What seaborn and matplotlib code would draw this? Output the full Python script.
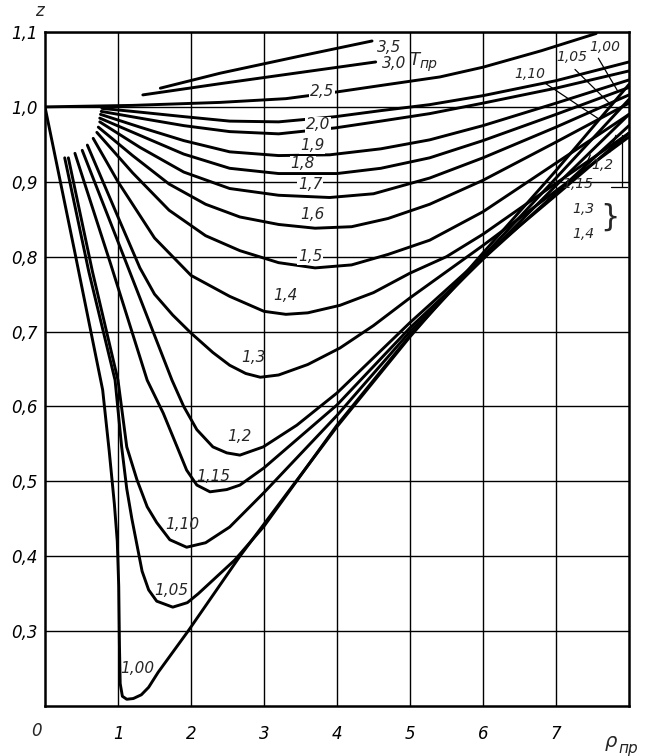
import numpy as np
import pandas as pd
import matplotlib
matplotlib.use("Agg")
import matplotlib.pyplot as plt
import seaborn as sns

# ---- curve data (p_pr, z) for each T_pr ----
T100_p = [0, 0.4, 0.79, 0.88, 0.95, 0.99, 1.01, 1.02, 1.03, 1.06, 1.12, 1.21, 1.32, 1.42, 1.55, 1.96, 2.67, 4.0, 5.0, 6.0, 7.0, 8.0]
T100_z = [1.0, 0.81, 0.622, 0.54, 0.47, 0.42, 0.36, 0.28, 0.23, 0.213, 0.209, 0.21, 0.215, 0.225, 0.245, 0.30, 0.40, 0.573, 0.693, 0.805, 0.915, 1.03]

T105_p = [0.27, 0.6, 0.96, 1.05, 1.12, 1.19, 1.26, 1.33, 1.42, 1.53, 1.75, 1.95, 2.1, 2.6, 3.0, 4.0, 5.0, 6.0, 7.0, 8.0]
T105_z = [0.932, 0.78, 0.635, 0.546, 0.49, 0.45, 0.415, 0.38, 0.355, 0.34, 0.332, 0.338, 0.35, 0.395, 0.44, 0.575, 0.695, 0.80, 0.905, 1.01]

T110_p = [0.32, 0.65, 1.0, 1.12, 1.26, 1.40, 1.53, 1.71, 1.94, 2.2, 2.53, 3.0, 4.0, 5.0, 6.0, 7.0, 8.0]
T110_z = [0.932, 0.78, 0.635, 0.546, 0.502, 0.466, 0.445, 0.422, 0.412, 0.418, 0.439, 0.485, 0.588, 0.70, 0.797, 0.895, 0.99]

T115_p = [0.41, 0.9, 1.4, 1.62, 1.81, 1.94, 2.08, 2.26, 2.49, 2.67, 3.0, 4.0, 5.0, 6.0, 7.0, 8.0]
T115_z = [0.938, 0.79, 0.635, 0.591, 0.546, 0.515, 0.495, 0.486, 0.489, 0.495, 0.518, 0.602, 0.705, 0.797, 0.885, 0.975]

T120_p = [0.51, 1.1, 1.74, 1.9, 2.08, 2.3, 2.49, 2.67, 2.99, 3.45, 4.0, 5.0, 6.0, 7.0, 8.0]
T120_z = [0.942, 0.795, 0.635, 0.60, 0.569, 0.546, 0.538, 0.535, 0.546, 0.575, 0.618, 0.712, 0.80, 0.882, 0.965]

T130_p = [0.58, 1.0, 1.3, 1.5, 1.75, 2.0, 2.3, 2.53, 2.75, 2.95, 3.2, 3.6, 4.04, 4.5, 5.0, 6.0, 7.0, 8.0]
T130_z = [0.949, 0.853, 0.785, 0.75, 0.722, 0.698, 0.672, 0.655, 0.644, 0.639, 0.642, 0.656, 0.678, 0.708, 0.745, 0.815, 0.888, 0.96]

T140_p = [0.66, 1.0, 1.5, 2.0, 2.53, 3.0, 3.3, 3.6, 4.04, 4.5, 5.0, 5.5, 6.0, 7.0, 8.0]
T140_z = [0.958, 0.90, 0.825, 0.775, 0.747, 0.727, 0.723, 0.725, 0.735, 0.752, 0.778, 0.80, 0.83, 0.898, 0.965]

T150_p = [0.71, 1.2, 1.7, 2.2, 2.67, 3.2, 3.7, 4.2, 4.7, 5.27, 6.0, 7.0, 8.0]
T150_z = [0.966, 0.912, 0.862, 0.828, 0.808, 0.792, 0.785, 0.789, 0.803, 0.822, 0.86, 0.925, 0.99]

T160_p = [0.73, 1.2, 1.7, 2.2, 2.67, 3.2, 3.7, 4.2, 4.7, 5.27, 6.0, 7.0, 8.0]
T160_z = [0.973, 0.935, 0.897, 0.870, 0.853, 0.843, 0.838, 0.84, 0.851, 0.87, 0.902, 0.953, 1.005]

T170_p = [0.75, 1.3, 1.9, 2.53, 3.2, 3.9, 4.5, 5.27, 6.0, 7.0, 8.0]
T170_z = [0.98, 0.946, 0.913, 0.891, 0.882, 0.879, 0.884, 0.905, 0.932, 0.973, 1.016]

T180_p = [0.75, 1.3, 1.9, 2.53, 3.2, 4.0, 4.6, 5.27, 6.0, 7.0, 8.0]
T180_z = [0.985, 0.962, 0.937, 0.918, 0.911, 0.911, 0.918, 0.932, 0.955, 0.99, 1.026]

T190_p = [0.76, 1.3, 1.9, 2.53, 3.2, 3.9, 4.6, 5.27, 6.0, 7.0, 8.0]
T190_z = [0.99, 0.973, 0.955, 0.94, 0.935, 0.936, 0.944, 0.956, 0.975, 1.005, 1.036]

T200_p = [0.77, 1.3, 1.9, 2.53, 3.2, 3.98, 4.6, 5.27, 6.0, 7.0, 8.0]
T200_z = [0.994, 0.985, 0.975, 0.967, 0.964, 0.972, 0.981, 0.991, 1.005, 1.025, 1.048]

T220_p = [0.78, 1.3, 1.9, 2.53, 3.2, 3.98, 4.6, 5.27, 6.0, 7.0, 8.0]
T220_z = [0.998, 0.993, 0.987, 0.981, 0.98, 0.987, 0.995, 1.003, 1.015, 1.035, 1.06]

T250_p = [0, 1.2, 2.4, 3.3, 4.0, 4.7, 5.41, 6.0, 6.8, 7.55]
T250_z = [1.0, 1.002, 1.006, 1.011, 1.02, 1.03, 1.04, 1.053, 1.075, 1.098]

T300_p = [1.34, 2.4, 3.5, 4.53]
T300_z = [1.016, 1.031, 1.046, 1.06]

T350_p = [1.58, 2.4, 3.5, 4.48]
T350_z = [1.025, 1.045, 1.068, 1.088]

curve_names = ["1,00", "1,05", "1,10", "1,15", "1,2", "1,3", "1,4", "1,5", "1,6",
               "1,7", "1,8", "1,9", "2,0", "2,2", "2,5", "3,0", "3,5"]
curve_p = [T100_p, T105_p, T110_p, T115_p, T120_p, T130_p, T140_p, T150_p, T160_p,
           T170_p, T180_p, T190_p, T200_p, T220_p, T250_p, T300_p, T350_p]
curve_z = [T100_z, T105_z, T110_z, T115_z, T120_z, T130_z, T140_z, T150_z, T160_z,
           T170_z, T180_z, T190_z, T200_z, T220_z, T250_z, T300_z, T350_z]

x_ticks = [1, 2, 3, 4, 5, 6, 7]
x_tick_labels = ["1", "2", "3", "4", "5", "6", "7"]
y_ticks = [0.3, 0.4, 0.5, 0.6, 0.7, 0.8, 0.9, 1.0, 1.1]
y_tick_labels = ["0,3", "0,4", "0,5", "0,6", "0,7", "0,8", "0,9", "1,0", "1,1"]

# ---- build long table ----
frames = []
for n, p, z in zip(curve_names, curve_p, curve_z):
    frames.append(pd.DataFrame({"p": p, "z": z, "T": n}))
df = pd.concat(frames, ignore_index=True)

sns.set_theme(style="white")
plt.rcParams['font.family'] = ['DejaVu Sans']

fig = plt.figure(figsize=(6.53, 7.56), dpi=100)
ax = fig.add_axes([45 / 653, 50 / 756, 584 / 653, 674 / 756])

sns.lineplot(data=df, x="p", y="z", units="T", estimator=None, sort=False,
             color="black", linewidth=2.1, ax=ax, legend=False, zorder=3)

ax.set_xlim(0, 8)
ax.set_ylim(0.2, 1.1)
ax.set_xticks(x_ticks)
ax.set_xticklabels(x_tick_labels, fontstyle="italic", fontsize=12)
ax.set_yticks(y_ticks)
ax.set_yticklabels(y_tick_labels, fontstyle="italic", fontsize=12)
ax.tick_params(axis="both", length=0, colors="black")
ax.tick_params(axis="x", pad=14)
ax.tick_params(axis="y", pad=5)
ax.grid(True, color="black", linewidth=1.0)
ax.set_axisbelow(True)
for s in ax.spines.values():
    s.set_color("black")
    s.set_linewidth(1.8)
ax.set_xlabel("")
ax.set_ylabel("")

# axis captions
ax.text(-0.08, 1.128, "z", fontsize=12, fontstyle="italic", ha="center", va="center", clip_on=False)
ax.text(-0.12, 0.167, "0", fontsize=12, fontstyle="italic", ha="center", va="center", clip_on=False)
ax.text(7.83, 0.153, "ρ", fontsize=14, fontstyle="italic", ha="right", va="center", clip_on=False)
ax.text(7.85, 0.143, "пр", fontsize=11, fontstyle="italic", ha="left", va="center", clip_on=False)

def lab(x, z, s, size=11, bg=True):
    kw = dict(fontsize=size, fontstyle="italic", ha="center", va="center", zorder=5)
    if bg:
        kw["bbox"] = dict(facecolor="white", edgecolor="none", pad=0.6)
    ax.text(x, z, s, **kw)

# curve labels
lab(4.72, 1.079, "3,5", bg=False)
lab(4.78, 1.058, "3,0", bg=False)
ax.text(5.06, 1.062, "T", fontsize=12, fontstyle="italic", ha="center", va="center")
ax.text(5.25, 1.057, "пр", fontsize=10, fontstyle="italic", ha="center", va="center")
lab(3.8, 1.02, "2,5")
lab(3.74, 0.976, "2,0")
lab(3.66, 0.948, "1,9")
lab(3.53, 0.924, "1,8")
lab(3.63, 0.897, "1,7")
lab(3.67, 0.856, "1,6", bg=False)
lab(3.63, 0.800, "1,5")
lab(3.30, 0.748, "1,4", bg=False)
lab(2.85, 0.665, "1,3", bg=False)
lab(2.67, 0.560, "1,2", bg=False)
lab(2.31, 0.507, "1,15", bg=False)
lab(1.88, 0.442, "1,10", bg=False)
lab(1.73, 0.354, "1,05", bg=False)
lab(1.27, 0.250, "1,00", bg=False)

# right-hand labels with leaders
lab(7.67, 1.080, "1,00", size=10, bg=False)
lab(7.22, 1.067, "1,05", size=10, bg=False)
lab(6.64, 1.044, "1,10", size=10, bg=False)
lab(7.64, 0.922, "1,2", size=10, bg=False)
lab(7.30, 0.897, "1,15", size=10, bg=False)
lab(7.38, 0.864, "1,3", size=10, bg=False)
lab(7.38, 0.830, "1,4", size=10, bg=False)
ax.text(7.74, 0.853, "}", fontsize=22, ha="center", va="center")

lk = dict(color="black", linewidth=0.9, zorder=4)
ax.plot([7.58, 7.70, 7.84], [1.065, 1.045, 1.022], **lk)
ax.plot([7.26, 7.72], [1.050, 1.006], **lk)
ax.plot([6.86, 7.60], [1.031, 0.983], **lk)
ax.plot([7.74, 7.82], [0.940, 0.962], **lk)
ax.plot([7.37, 7.47], [0.913, 0.936], **lk)
ax.plot([7.90, 7.90], [0.893, 0.962], **lk)
ax.plot([7.76, 7.97], [0.893, 0.893], **lk)

fig.savefig("out.png", dpi=100)
